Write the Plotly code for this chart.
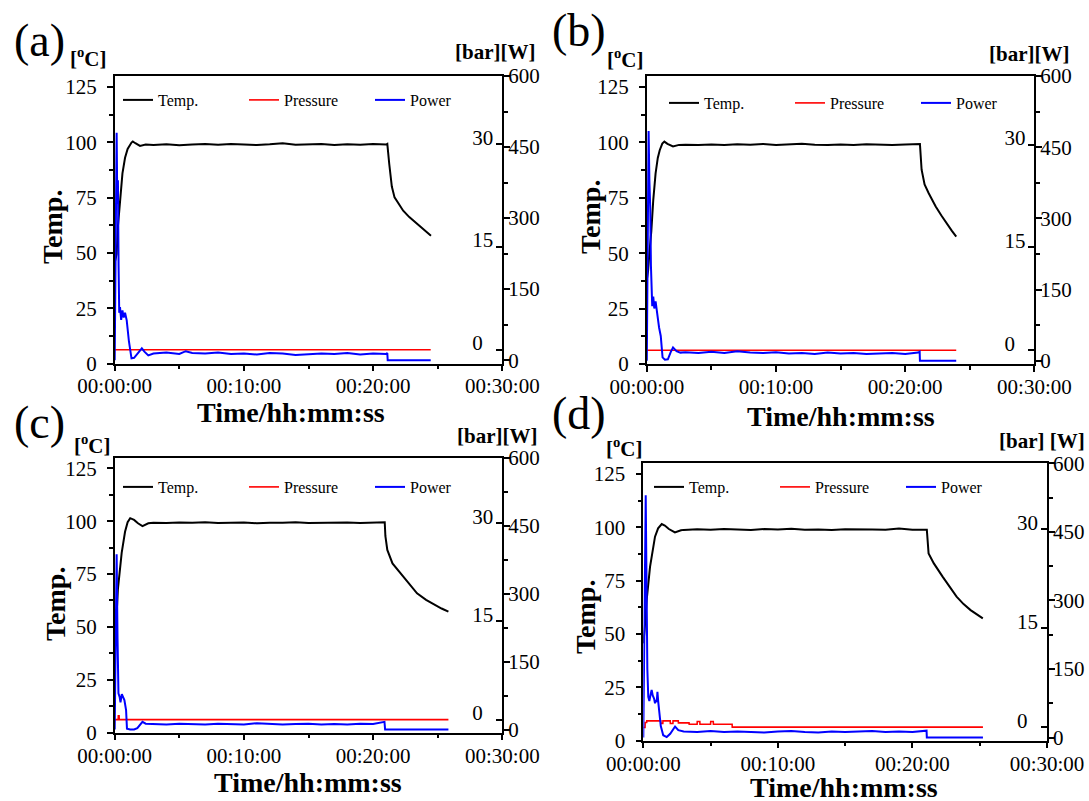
import plotly.graph_objects as go

W, H = 1089, 801
FONT = "Liberation Serif"

# ---------------- axis ticks ----------------
time_ticks = [0, 10, 20, 30]
time_tick_text = ["00:00:00", "00:10:00", "00:20:00", "00:30:00"]
temp_ticks = [0, 25, 50, 75, 100, 125]
bar_ticks = [0, 15, 30]
watt_ticks = [0, 150, 300, 450, 600]

# ---------------- panel (a) ----------------
a_temp_t = [0, 0.15, 0.25, 0.41, 0.6, 0.8, 1.0, 1.3, 1.4, 1.6, 1.96, 2.4, 3, 4, 5, 6, 7, 8, 9, 10,
            11, 12, 13, 14, 15, 16, 17, 18, 19, 20, 21, 21.1, 21.25, 21.45, 21.66, 22.0, 22.33,
            22.8, 23.4, 24.0, 24.48]
a_temp = [45.5, 49.5, 62, 75, 86, 93, 97, 99.9, 100.4, 99.6, 98.4, 99.0, 98.8, 99.1, 98.7, 99.0,
          99.2, 98.9, 99.2, 99.0, 98.8, 99.1, 99.6, 98.9, 99.0, 99.2, 98.8, 99.1, 98.9, 99.2, 99.0,
          99.3, 90.2, 80, 75.1, 71.8, 69.1, 66.2, 63.1, 60.3, 57.8]
a_pres_t = [0, 24.46]
a_pres = [0, 0]
a_pow_t = [0, 0.08, 0.15, 0.2, 0.25, 0.3, 0.35, 0.41, 0.5, 0.6, 0.7, 0.8, 0.93, 1.1, 1.3, 1.5, 1.8,
           2.1, 2.3, 2.6, 3, 4, 5, 5.5, 6, 7, 8, 9, 10, 11, 12, 13, 14, 15, 16, 17, 18, 19, 20, 21,
           21.1, 21.13, 24.46]
a_pow = [0, 250, 480, 330, 380, 200, 100, 112, 85, 105, 90, 100, 84, 40, 4, 5, 14, 25, 18, 10, 14,
         16, 13, 19, 15, 14, 16, 13, 14, 12, 15, 14, 11, 12, 14, 13, 15, 12, 14, 13, 15, 0, 0]

# ---------------- panel (b) ----------------
b_temp_t = [0, 0.1, 0.2, 0.35, 0.5, 0.68, 0.85, 1.0, 1.2, 1.36, 1.6, 2.03, 2.5, 3, 4, 5, 6, 7, 8, 9,
            10, 11, 12, 13, 14, 15, 16, 17, 18, 19, 20, 21, 21.14, 21.27, 21.5, 21.82, 22.36, 22.8,
            23.17, 23.6, 23.95]
b_temp = [38, 42, 50, 60, 74, 86, 93, 96.5, 99.5, 100.4, 99.4, 98.2, 98.9, 99.0, 98.8, 99.1, 98.9,
          99.2, 99.0, 99.3, 98.9, 99.2, 99.4, 99.0, 98.8, 99.1, 98.9, 99.2, 99.0, 98.9, 99.1, 99.0,
          99.3, 87.7, 81, 77.1, 71.1, 67, 63.6, 60.2, 57.5]
b_pres_t = [0, 23.95]
b_pres = [0, 0]
b_pow_t = [0, 0.07, 0.14, 0.2, 0.27, 0.32, 0.35, 0.42, 0.5, 0.58, 0.68, 0.8, 0.95, 1.08, 1.22, 1.4,
           1.63, 1.85, 2.03, 2.3, 2.6, 3, 4, 5, 6, 7, 8, 9, 10, 11, 12, 13, 14, 15, 16, 17, 18, 19,
           20, 21, 21.12, 21.14, 23.95]
b_pow = [0, 300, 484, 380, 318, 200, 150, 115, 135, 110, 125, 95, 70, 52, 7, 2, 3, 18, 28, 20, 17,
         18, 16, 19, 16, 20, 17, 16, 18, 15, 16, 14, 17, 15, 16, 14, 15, 16, 14, 17, 19, 0, 0]

# ---------------- panel (c) ----------------
c_temp_t = [0, 0.1, 0.25, 0.54, 0.8, 1.0, 1.2, 1.5, 1.8, 2.15, 2.6, 3, 4, 5, 6, 7, 8, 9, 10, 11, 12,
            13, 14, 15, 16, 17, 18, 19, 20, 20.9, 20.95, 21.1, 21.5, 22.33, 22.9, 23.4, 24.1, 24.75,
            25.3, 25.83]
c_temp = [45, 50, 68, 85, 95, 99.5, 101.4, 100.6, 99.0, 97.7, 99.0, 99.3, 99.1, 99.4, 99.2, 99.5,
          99.1, 99.3, 99.4, 99.0, 99.3, 99.2, 99.5, 99.1, 99.3, 99.2, 99.4, 99.1, 99.3, 99.5, 93,
          86.4, 80, 73.8, 69.5, 65.9, 62.8, 60.4, 58.7, 57.2]
c_pres_t = [0, 0.27, 0.28, 0.34, 0.35, 25.83]
c_pres = [0, 0, 0.6, 0.6, 0, 0]
c_pow_t = [0, 0.08, 0.15, 0.22, 0.29, 0.38, 0.45, 0.55, 0.65, 0.75, 0.88, 0.95, 1.2, 1.5, 1.75, 2.0,
           2.15, 2.4, 3, 4, 5, 6, 7, 8, 9, 10, 11, 12, 13, 14, 15, 16, 17, 18, 19, 20, 20.88, 20.93,
           25.83]
c_pow = [0, 200, 387, 200, 80, 72, 60, 78, 70, 65, 43, 2, 0, 0, 3, 12, 17, 13, 12, 11, 13, 12, 11,
         13, 12, 11, 14, 12, 11, 12, 13, 11, 12, 11, 13, 12, 17, 0, 0]

# ---------------- panel (d) ----------------
d_temp_t = [0, 0.1, 0.25, 0.5, 0.87, 1.1, 1.37, 1.6, 1.9, 2.35, 2.8, 3, 4, 5, 6, 7, 8, 9, 10, 11, 12,
            13, 14, 15, 16, 17, 18, 19, 20, 21, 21.07, 21.2, 21.59, 22.24, 22.7, 23.28, 23.8, 24.32,
            25.23]
d_temp = [45.6, 52, 65.9, 81.5, 95.6, 99.5, 101.5, 100.8, 99.2, 97.6, 98.6, 98.8, 99.1, 98.9, 99.2,
          99.0, 98.8, 99.2, 99.0, 99.3, 98.9, 99.0, 98.8, 99.1, 98.9, 99.0, 98.9, 99.4, 98.9, 98.8,
          98.9, 87.8, 83.1, 76.9, 72.5, 67.5, 64, 61.2, 57.3]
d_pres_t = [0, 0.13, 0.14, 0.25, 0.26, 1.3, 1.31, 1.45, 1.46, 2.0, 2.01, 2.2, 2.21, 2.6, 2.61, 3.4,
            3.41, 4.0, 4.01, 4.2, 4.21, 5.0, 5.01, 5.2, 5.21, 6.6, 6.61, 25.24]
d_pres = [0, 0, 0.76, 0.76, 1.0, 1.0, 0.6, 0.6, 1.0, 1.0, 0.6, 0.6, 1.0, 1.0, 0.7, 0.7, 0.5, 0.5,
          0.9, 0.9, 0.5, 0.5, 0.9, 0.9, 0.5, 0.5, 0.05, 0.05]
d_pow_t = [0, 0.1, 0.18, 0.22, 0.25, 0.3, 0.37, 0.45, 0.55, 0.62, 0.7, 0.8, 0.87, 0.95, 1.0, 1.05,
           1.11, 1.3, 1.48, 1.74, 2.0, 2.36, 2.6, 3, 4, 5, 6, 7, 8, 9, 10, 11, 12, 13, 14, 15, 16, 17,
           18, 19, 20, 21, 21.05, 21.07, 25.24]
d_pow = [0, 250, 530, 400, 264, 150, 89, 80, 95, 104, 92, 85, 75, 82, 78, 100, 78, 25, 5, 1, 8, 24,
         16, 13, 12, 14, 12, 13, 12, 11, 13, 14, 12, 11, 13, 12, 13, 14, 12, 13, 12, 14, 15, 0, 0]

# ---------------- layout positions (page pixels) ----------------
panels = [
    dict(letter="(a)", data=(a_temp_t, a_temp, a_pres_t, a_pres, a_pow_t, a_pow),
         box=(114.7, 502.3, 76, 363.5), letter_pos=(39, 40), degc=(88, 58), barw=(494.5, 51.5),
         barw_text="[bar][W]", xtitle=(291, 412), ytitle=(52, 227), leg=(118, 100)),
    dict(letter="(b)", data=(b_temp_t, b_temp, b_pres_t, b_pres, b_pow_t, b_pow),
         box=(646.8, 1034.4, 76, 364), letter_pos=(578.5, 31), degc=(625.5, 59), barw=(1028.5, 53.5),
         barw_text="[bar][W]", xtitle=(841, 416), ytitle=(590, 217), leg=(664, 103)),
    dict(letter="(c)", data=(c_temp_t, c_temp, c_pres_t, c_pres, c_pow_t, c_pow),
         box=(114.7, 502.3, 457.7, 732.7), letter_pos=(39, 423), degc=(92, 444), barw=(497, 436),
         barw_text="[bar][W]", xtitle=(307.6, 782), ytitle=(55, 604), leg=(118, 487)),
    dict(letter="(d)", data=(d_temp_t, d_temp, d_pres_t, d_pres, d_pow_t, d_pow),
         box=(643.3, 1047, 463.3, 740.7), letter_pos=(578.5, 413), degc=(624, 447.5), barw=(1041.5, 441),
         barw_text="[bar] [W]", xtitle=(844, 787), ytitle=(585, 617), leg=(649, 487)),
]


def px(x):
    return x / W


def py(y):
    return 1 - y / H


def yname(n):
    return "y" if n == 1 else f"y{n}"


def ykey(n):
    return "yaxis" if n == 1 else f"yaxis{n}"


def tickfont():
    return dict(family=FONT, size=21, color="black")


fig = go.Figure()
layout = dict(template="none", width=W, height=H, margin=dict(l=0, r=0, t=0, b=0, pad=0),
              autosize=False, paper_bgcolor="white", plot_bgcolor="white", showlegend=True,
              font=dict(family=FONT, color="black"))
annotations = []

for i, p in enumerate(panels):
    xa = "x" if i == 0 else f"x{i + 1}"
    xkey = "xaxis" if i == 0 else f"xaxis{i + 1}"
    nT, nP, nW = 3 * i + 1, 3 * i + 2, 3 * i + 3
    lg = "legend" if i == 0 else f"legend{i + 1}"
    tt, tv, pt, pv, wt, wv = p["data"]
    fig.add_trace(go.Scatter(x=tt, y=tv, xaxis=xa, yaxis=yname(nT), mode="lines", name="Temp.",
                             line=dict(color="black", width=2), legend=lg))
    fig.add_trace(go.Scatter(x=pt, y=pv, xaxis=xa, yaxis=yname(nP), mode="lines", name="Pressure",
                             line=dict(color="#ff0000", width=1.6), legend=lg))
    fig.add_trace(go.Scatter(x=wt, y=wv, xaxis=xa, yaxis=yname(nW), mode="lines", name="Power",
                             line=dict(color="#0000ff", width=2), legend=lg))

    x0, x1, y0, y1 = p["box"]
    layout[xkey] = dict(domain=[px(x0), px(x1)], anchor=yname(nT), range=[0, 30],
                        automargin=False, ticklabeloverflow="allow",
                        tickmode="array", tickvals=time_ticks, ticktext=time_tick_text,
                        ticks="outside", ticklen=6, tickwidth=1.5, tickcolor="black",
                        ticklabelstandoff=-3,
                        minor=dict(tickmode="linear", tick0=0, dtick=5, ticks="outside",
                                   ticklen=4, tickwidth=1.5, tickcolor="black"),
                        showline=True, linecolor="black", linewidth=1.5, mirror=True,
                        showgrid=False, zeroline=False, tickfont=tickfont())
    layout[ykey(nT)] = dict(domain=[py(y1), py(y0)], anchor=xa, range=[0, 130],
                            automargin=False, ticklabeloverflow="allow",
                            tickmode="array", tickvals=temp_ticks,
                            ticks="outside", ticklen=6, tickwidth=1.5, tickcolor="black",
                            ticklabelstandoff=6,
                            minor=dict(tickmode="linear", tick0=0, dtick=12.5, ticks="outside",
                                       ticklen=4, tickwidth=1.5, tickcolor="black"),
                            showline=True, linecolor="black", linewidth=1.5,
                            showgrid=False, zeroline=False, tickfont=tickfont())
    layout[ykey(nP)] = dict(overlaying=yname(nT), side="right", anchor=xa, range=[-2, 40],
                            automargin=False, ticklabeloverflow="allow",
                            tickmode="array", tickvals=bar_ticks,
                            ticks="inside", ticklen=6, tickwidth=1.5, tickcolor="black",
                            ticklabelposition="outside", ticklabelshift=-7, ticklabelstandoff=-31,
                            showline=False, showgrid=False, zeroline=False, tickfont=tickfont())
    layout[ykey(nW)] = dict(overlaying=yname(nT), side="right", anchor=xa, range=[-7, 600],
                            automargin=False, ticklabeloverflow="allow",
                            tickmode="array", tickvals=watt_ticks,
                            ticks="outside", ticklen=6, tickwidth=1.5, tickcolor="black",
                            ticklabelstandoff=-6,
                            minor=dict(tickmode="linear", tick0=0, dtick=75, ticks="outside",
                                       ticklen=4, tickwidth=1.5, tickcolor="black"),
                            showline=True, linecolor="black", linewidth=1.5,
                            showgrid=False, zeroline=False, tickfont=tickfont())
    lx, ly = p["leg"]
    layout[lg] = dict(x=px(lx), y=py(ly), xanchor="left", yanchor="middle", orientation="h",
                      entrywidth=81, entrywidthmode="pixels", itemwidth=30,
                      bgcolor="rgba(0,0,0,0)", borderwidth=0,
                      font=dict(family=FONT, size=16, color="black"))

    def ann(text, pos, size, bold=False, angle=0):
        annotations.append(dict(text=f"<b>{text}</b>" if bold else text, x=px(pos[0]), y=py(pos[1]),
                                xref="paper", yref="paper", xanchor="center", yanchor="middle",
                                showarrow=False, textangle=angle,
                                font=dict(family=FONT, size=size, color="black")))

    ann(p["letter"], p["letter_pos"], 46)
    ann("[<sup>o</sup>C]", p["degc"], 21, bold=True)
    ann(p["barw_text"], p["barw"], 21, bold=True)
    ann("Time/hh:mm:ss", p["xtitle"], 28, bold=True)
    ann("Temp.", p["ytitle"], 28, bold=True, angle=-90)

layout["annotations"] = annotations
fig.update_layout(**layout)

# the page's default body margin would push the 1089x801 figure off the window
page_fix = ("document.body.style.margin='0';"
            "document.body.style.overflow='hidden';"
            "document.documentElement.style.overflow='hidden';")
fig.write_html("out.html", post_script=page_fix, config={"displayModeBar": False})
